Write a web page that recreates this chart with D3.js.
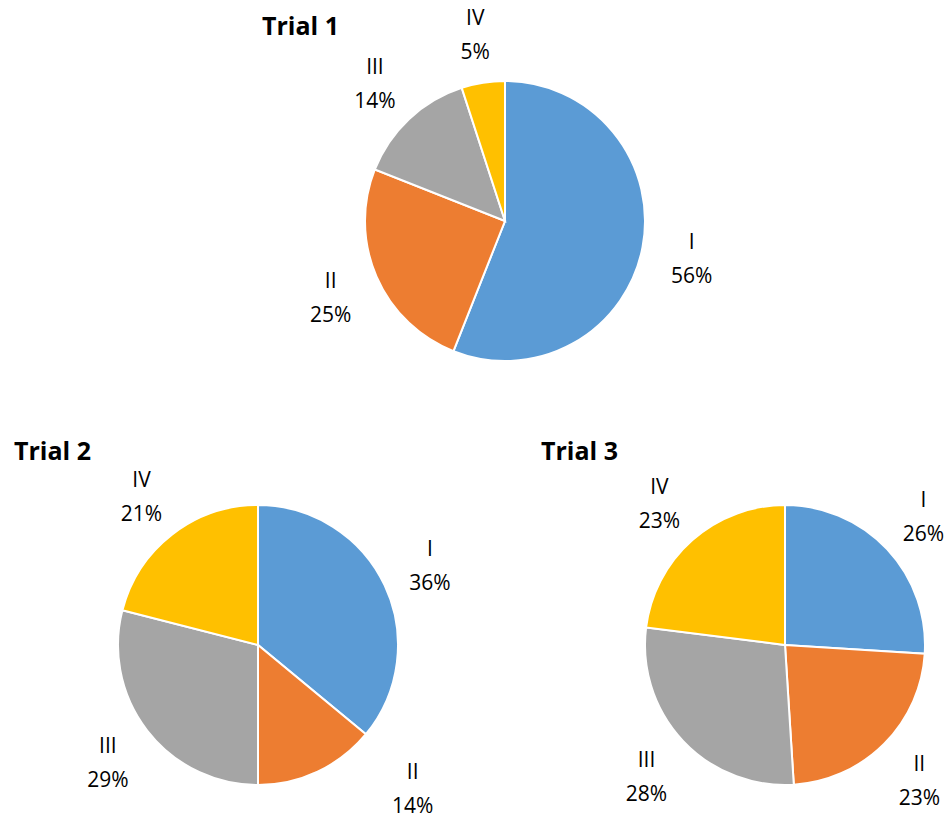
<!DOCTYPE html>
<html>
<head>
<meta charset="utf-8">
<script src="https://cdn.jsdelivr.net/npm/d3@7"></script>
<style>
  body { margin: 0; background: #fff; }
  text { font-family: "Open Sans", "Noto Sans", sans-serif; fill: #000; }
</style>
</head>
<body>
<svg id="chart" width="949" height="823"></svg>
<script>
// categories and values
let categories = ["I", "II", "III", "IV"];
let trialNames = ["Trial 1", "Trial 2", "Trial 3"];
let trial1 = [56, 25, 14, 5];
let trial2 = [36, 14, 29, 21];
let trial3 = [26, 23, 28, 23];
let colors = ["#5B9BD5", "#ED7D31", "#A5A5A5", "#FFC000"];

let width = 949, height = 823;
let svg = d3.select("#chart");

// where each pie sits
let panels = [
  { name: trialNames[0], values: trial1, cx: 505, cy: 221, tx: 262, ty: 35 },
  { name: trialNames[1], values: trial2, cx: 258, cy: 645, tx: 14, ty: 460 },
  { name: trialNames[2], values: trial3, cx: 785, cy: 645, tx: 541, ty: 460 }
];

let radius = 140;
let labelR = 190;
let color = d3.scaleOrdinal().domain(categories).range(colors);

let pie = d3.pie()
  .sort(null)
  .value(d => d.value);

let arc = d3.arc().innerRadius(0).outerRadius(radius);
let labelArc = d3.arc().innerRadius(labelR).outerRadius(labelR);

// keep a label block inside the page, sliding it round the pie like Excel does
function labelPos(d, p) {
  let c = labelArc.centroid(d);
  let maxY = height - 36 - p.cy;
  if (c[1] > maxY) {
    let r = 210;
    let dx = Math.sqrt(Math.max(0, r * r - maxY * maxY));
    c = [c[0] >= 0 ? dx : -dx, maxY];
  }
  return c;
}

panels.forEach(function(p) {
  let data = categories.map((c, i) => ({ cat: c, value: p.values[i] }));
  let total = d3.sum(data, d => d.value);

  svg.append("text")
    .attr("x", p.tx)
    .attr("y", p.ty)
    .attr("font-size", 25)
    .attr("font-weight", "bold")
    .text(p.name);

  let g = svg.append("g")
    .attr("transform", "translate(" + p.cx + "," + p.cy + ")");

  let arcs = pie(data);

  g.selectAll("path")
    .data(arcs)
    .enter()
    .append("path")
    .attr("d", arc)
    .attr("fill", d => color(d.data.cat))
    .attr("stroke", "#fff")
    .attr("stroke-width", 2);

  let labels = g.selectAll("text.lbl")
    .data(arcs)
    .enter()
    .append("text")
    .attr("class", "lbl")
    .attr("text-anchor", "middle")
    .attr("font-size", 21)
    .attr("transform", d => "translate(" + labelPos(d, p) + ")");

  labels.append("tspan")
    .attr("x", 0)
    .attr("y", -8)
    .text(d => d.data.cat);

  labels.append("tspan")
    .attr("x", 0)
    .attr("y", 26)
    .text(d => Math.round(d.data.value / total * 100) + "%");
});
</script>
</body>
</html>
